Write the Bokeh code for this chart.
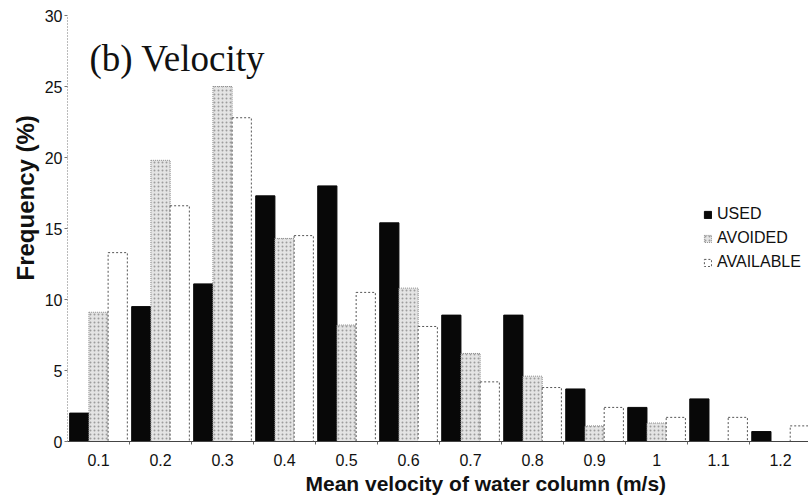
from bokeh.plotting import figure
from bokeh.models import Range1d, FixedTicker, Title, Legend, LegendItem, ColumnDataSource, Label
from bokeh.embed import file_html
from bokeh.resources import INLINE

# Velocity classes (m/s) and frequency (%) of each habitat category
classes = ["0.1", "0.2", "0.3", "0.4", "0.5", "0.6", "0.7", "0.8", "0.9", "1", "1.1", "1.2"]
used = [2.0, 9.5, 11.1, 17.3, 18.0, 15.4, 8.9, 8.9, 3.7, 2.4, 3.0, 0.7]
avoided = [9.1, 19.8, 25.0, 14.3, 8.2, 10.8, 6.2, 4.6, 1.1, 1.3, 0.0, 0.0]
available = [13.3, 16.6, 22.8, 14.5, 10.5, 8.1, 4.2, 3.8, 2.4, 1.7, 1.7, 1.1]
y_ticks = [0, 5, 10, 15, 20, 25, 30]

idx = list(range(len(classes)))
bw = 0.31
src = ColumnDataSource(dict(
    x_used=[i - bw for i in idx],
    x_avoid=idx,
    x_avail=[i + bw for i in idx],
    used=used, avoided=avoided, available=available,
))

p = figure(width=808, height=501, output_backend="svg", toolbar_location=None,
           x_range=Range1d(-0.5, 11.45), y_range=Range1d(0, 30),
           min_border_left=67, min_border_right=0, min_border_top=15, min_border_bottom=60)
p.outline_line_color = None
p.xgrid.visible = False
p.ygrid.visible = False
p.background_fill_color = "white"
p.border_fill_color = "white"

r_used = p.vbar(x="x_used", top="used", width=bw, source=src,
                fill_color="#080808", line_color="#080808")
r_avoid = p.vbar(x="x_avoid", top="avoided", width=bw, source=src,
                 fill_color="#e4e4e4", line_color="#8a8a8a", line_dash="1 1",
                 hatch_pattern="dot", hatch_color="#9c9c9c", hatch_scale=4, hatch_weight=1)
r_avail = p.vbar(x="x_avail", top="available", width=bw, source=src,
                 fill_color="white", line_color="#555555", line_dash="2 2")

# x axis: labels at class centres, small ticks at class boundaries
xa = p.xaxis[0]
xa.ticker = FixedTicker(ticks=idx, minor_ticks=[i + 0.5 for i in idx])
xa.major_label_overrides = {i: c for i, c in zip(idx, classes)}
xa.major_tick_out = 0
xa.major_tick_in = 0
xa.minor_tick_out = 3
xa.minor_tick_in = 0
xa.minor_tick_line_color = "#666666"
xa.axis_line_color = "#444444"
xa.major_label_text_font = "Liberation Sans"
xa.major_label_text_font_size = "16px"
xa.major_label_text_color = "#111111"
xa.major_label_standoff = 9

ya = p.yaxis[0]
ya.ticker = FixedTicker(ticks=y_ticks)
ya.minor_tick_line_color = None
ya.major_tick_out = 3
ya.major_tick_in = 0
ya.major_tick_line_color = "#777777"
ya.axis_line_color = "#777777"
ya.axis_line_dash = "1 2"
ya.major_label_text_font = "Liberation Sans"
ya.major_label_text_font_size = "16px"
ya.major_label_text_color = "#111111"
ya.major_label_standoff = 2

# axis titles as side panels so they can sit off-centre
p.add_layout(Title(text="Mean velocity of water column (m/s)", align="left", offset=238,
                   standoff=2, text_font="Liberation Sans", text_font_style="bold",
                   text_font_size="21px", text_color="#111111"), "below")
p.add_layout(Title(text="Frequency (%)", align="left", offset=161,
                   standoff=5, text_font="Liberation Sans", text_font_style="bold",
                   text_font_size="24px", text_color="#111111"), "left")

# panel title
p.add_layout(Label(x=-0.145, y=26.95, text="(b) Velocity",
                   text_font="Liberation Serif", text_font_size="37px",
                   text_color="#111111", text_baseline="alphabetic"))

legend = Legend(items=[LegendItem(label="USED", renderers=[r_used]),
                       LegendItem(label="AVOIDED", renderers=[r_avoid]),
                       LegendItem(label="AVAILABLE", renderers=[r_avail])],
                location=(636, 170), orientation="vertical",
                glyph_width=9, glyph_height=9, label_height=16, spacing=6,
                label_standoff=5, padding=0, margin=0,
                label_text_font="Liberation Sans", label_text_font_size="16px",
                label_text_color="#111111", border_line_color=None,
                background_fill_alpha=0)
p.add_layout(legend)

open("out.html", "w").write(file_html(p, INLINE))
